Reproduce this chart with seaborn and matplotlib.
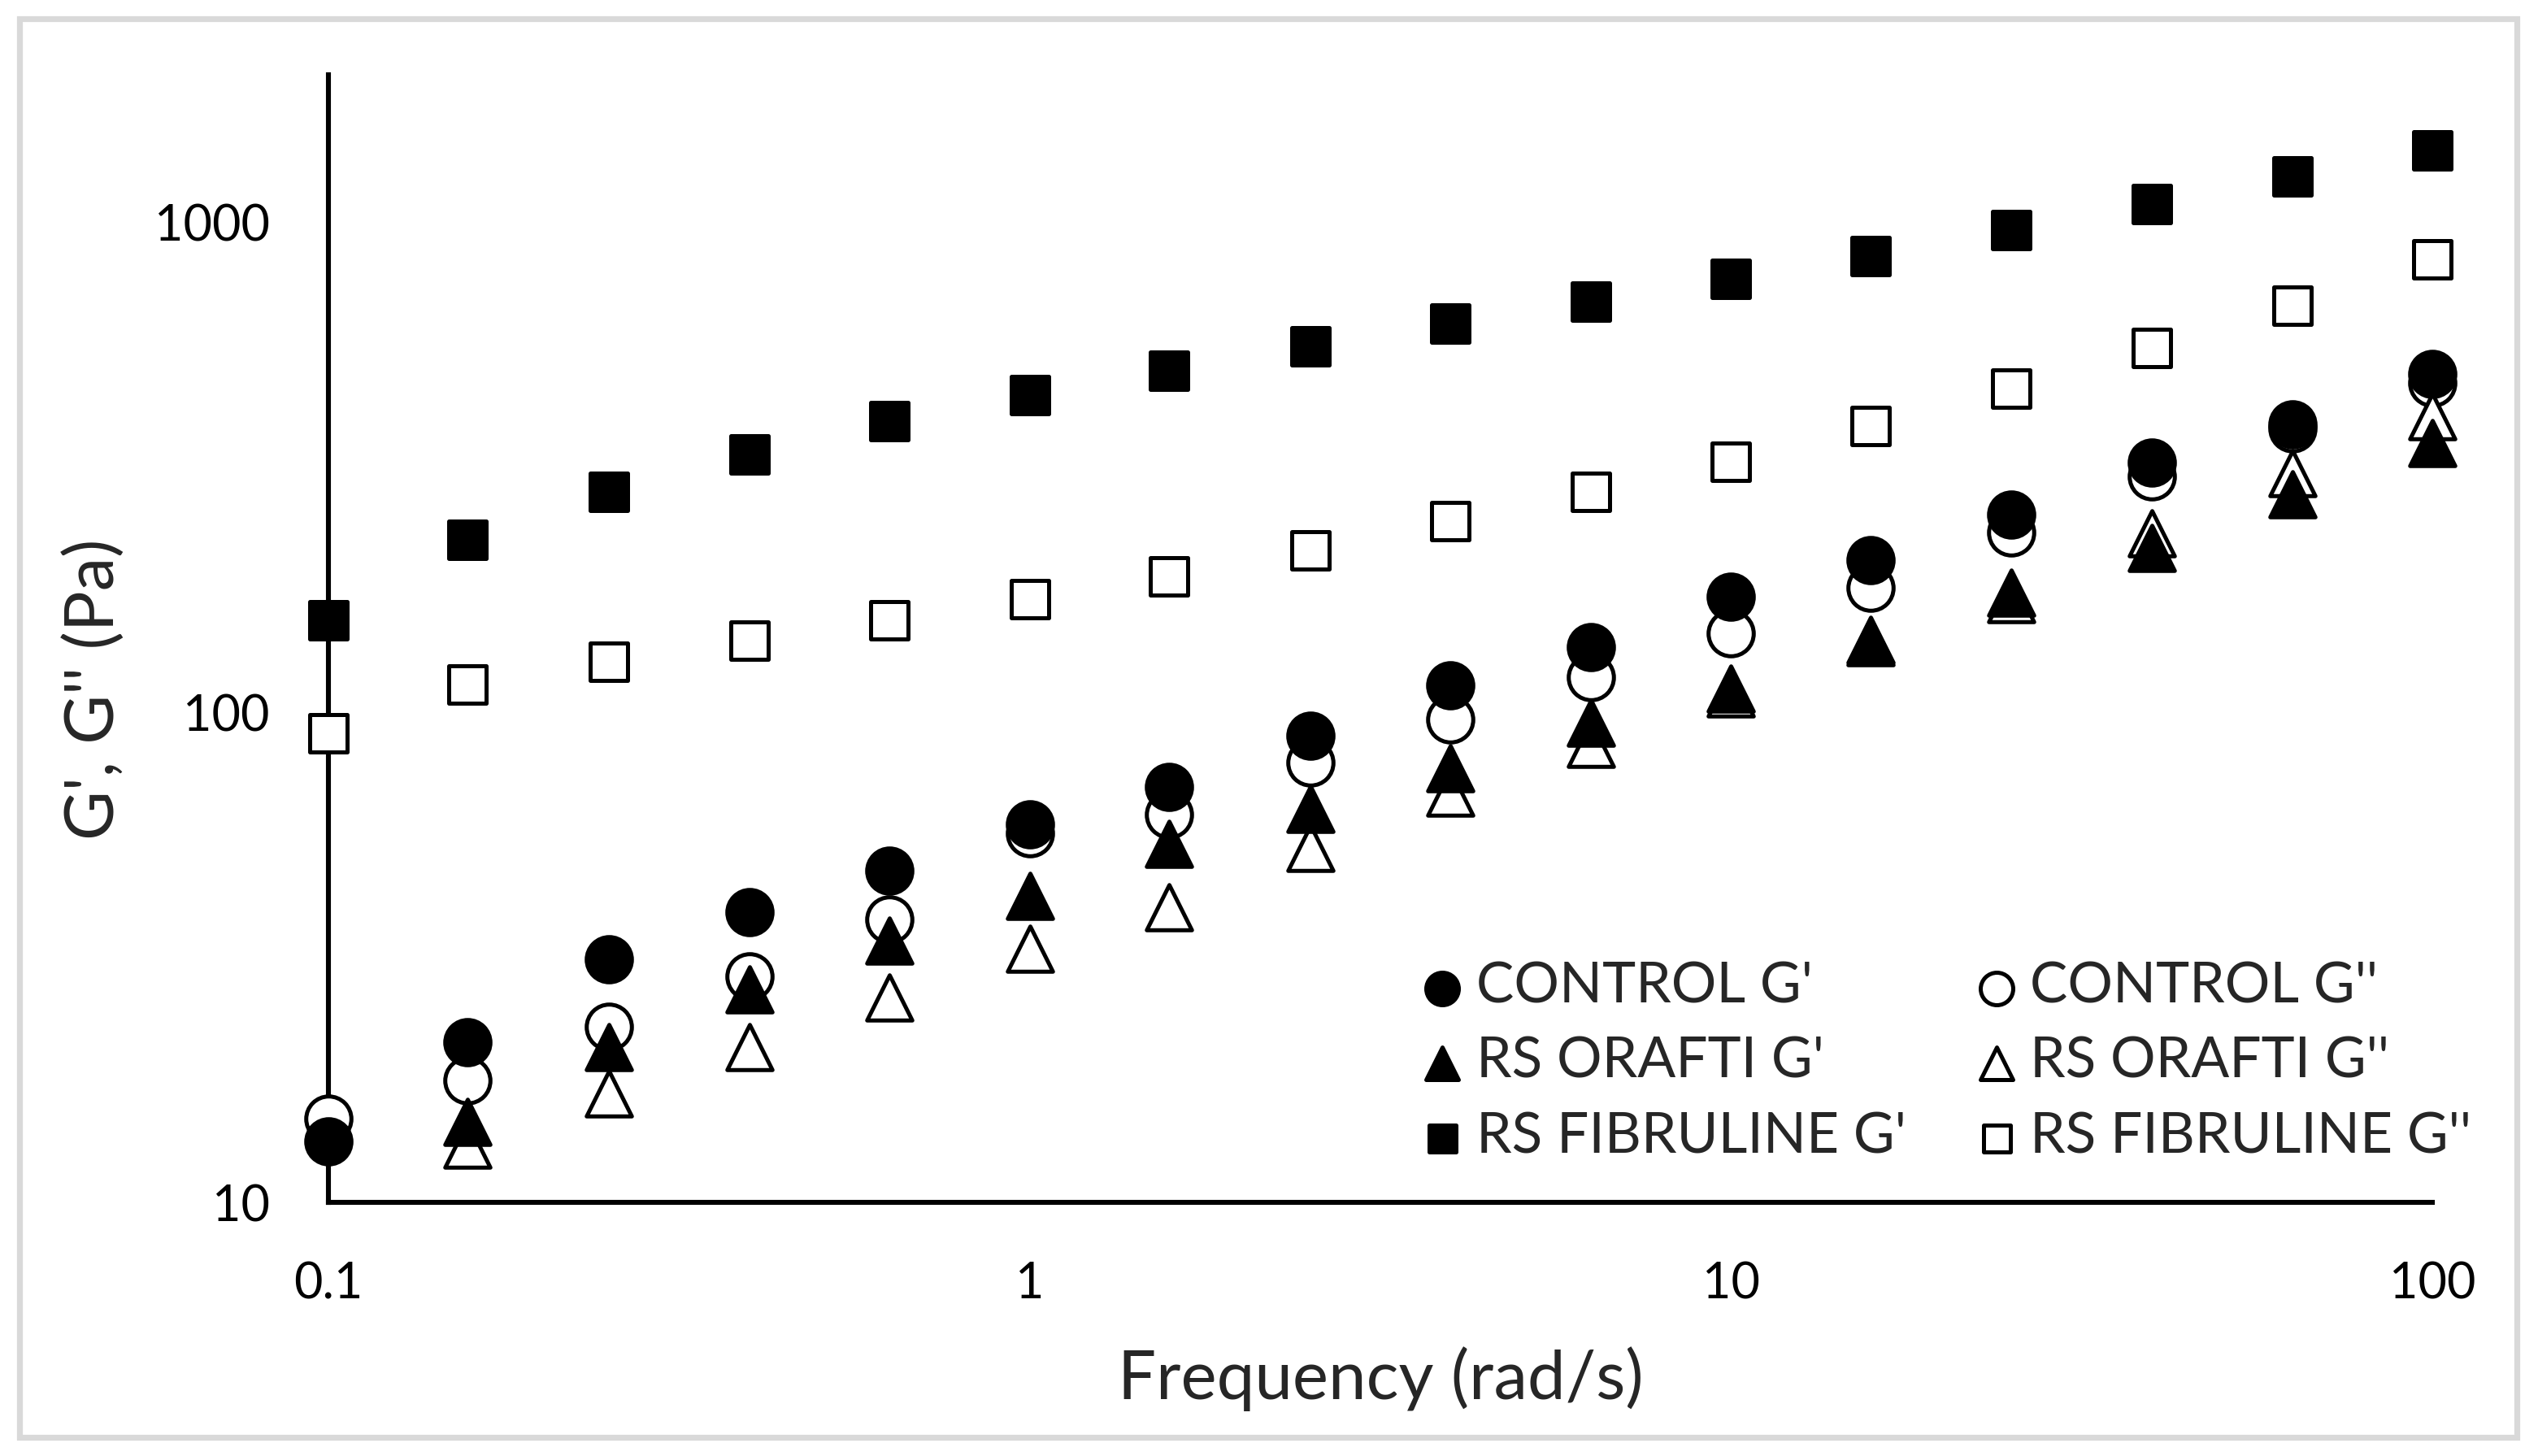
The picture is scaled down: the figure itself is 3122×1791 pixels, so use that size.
import numpy as np
import pandas as pd
import matplotlib
matplotlib.use('Agg')
import matplotlib.pyplot as plt
import seaborn as sns
from matplotlib.patches import Rectangle

# frequency sweep (rad/s)
freq = [0.1, 0.158, 0.251, 0.398, 0.631, 1, 1.58, 2.51, 3.98, 6.31,
        10, 15.8, 25.1, 39.8, 63.1, 100]

# moduli (Pa)
control_g1 = [13.3, 21.2, 31.3, 39.1, 47.5, 59.0, 70.4, 89.5, 113.5, 136,
              172, 204, 253, 323, 386, 490]
control_g2 = [14.8, 17.7, 22.8, 28.9, 37.8, 56.6, 61.8, 78.9, 96.6, 118,
              145, 179.5, 233, 303, 379, 470]
orafti_g1 = [np.nan, 14.6, 20.7, 27.2, 34.2, 42.2, 53.9, 63.5, 76.8, 95,
             111.7, 140.6, 175, 216, 278, 354]
orafti_g2 = [np.nan, 13.1, 16.7, 20.7, 26.2, 32.9, 40.0, 52.8, 68.5, 86.1,
             109, 139, 170, 232, 307, 401]
fibruline_g1 = [154, 225, 281, 335, 393, 444, 497, 557, 620, 689,
                766, 853, 962, 1087, 1237, 1397]
fibruline_g2 = [90.6, 114, 126.5, 140, 154, 170, 189, 214, 245, 281,
                324, 384, 457, 553, 675, 840]

labels = ["CONTROL G'", "CONTROL G''", "RS ORAFTI G'", "RS ORAFTI G''",
          "RS FIBRULINE G'", "RS FIBRULINE G''"]

sns.set_style("white")
plt.rcParams['font.family'] = ['Lato', 'DejaVu Sans']

fig = plt.figure(figsize=(15.61, 8.955), dpi=200)
ax = fig.add_axes([0.1294, 0.1742, 0.829, 0.7747])

ms = 20
# G'' drawn first so the G' markers sit on top
series = [
    (control_g2, 'o', False, ms, labels[1]),
    (control_g1, 'o', True, ms, labels[0]),
    (orafti_g2, '^', False, ms, labels[3]),
    (orafti_g1, '^', True, ms, labels[2]),
    (fibruline_g2, 's', False, 16.5, labels[5]),
    (fibruline_g1, 's', True, 16.5, labels[4]),
]
handles = {}
for vals, mk, filled, size, lab in series:
    df = pd.DataFrame({"freq": freq, "G": vals}).dropna()
    sns.scatterplot(data=df, x="freq", y="G", ax=ax, marker=mk, s=size ** 2,
                    color='black' if filled else 'white',
                    edgecolor='black', linewidth=1.8, label=lab, zorder=3,
                    legend=False, clip_on=False)
    handles[lab] = ax.collections[-1]

ax.set_xscale('log')
ax.set_yscale('log')
ax.set_xlim(0.1, 100)
ax.set_ylim(10, 2000)
ax.set_xticks([0.1, 1, 10, 100])
ax.set_xticklabels(['0.1', '1', '10', '100'])
ax.set_yticks([10, 100, 1000])
ax.set_yticklabels(['10', '100', '1000'])
ax.minorticks_off()
ax.tick_params(axis='both', length=0, labelsize=22, pad=26, colors='black')

for side in ['top', 'right']:
    ax.spines[side].set_visible(False)
for side in ['left', 'bottom']:
    ax.spines[side].set_color('black')
    ax.spines[side].set_linewidth(2.2)

ax.set_xlabel("Frequency (rad/s)", fontsize=30)
ax.set_ylabel("G', G'' (Pa)", fontsize=30)
ax.xaxis.set_label_coords(0.5, -0.128)
ax.yaxis.set_label_coords(-0.096, 0.455)

order = [labels[0], labels[2], labels[4], labels[1], labels[3], labels[5]]
ax.legend([handles[l] for l in order], order, ncol=2, frameon=False,
          loc='upper left', bbox_to_anchor=(0.546, 0.359),
          bbox_transform=fig.transFigure, fontsize=25, borderpad=0,
          handletextpad=0.1, handlelength=1.0, labelspacing=0.42,
          columnspacing=1.10, markerscale=0.72)

# light grey chart-area border
fig.patches.append(Rectangle((24 / 3122, 23 / 1791), 3072 / 3122, 1745 / 1791,
                             transform=fig.transFigure, fill=False,
                             edgecolor='#d9d9d9', linewidth=2.6))

fig.savefig("out.png", dpi=200)
